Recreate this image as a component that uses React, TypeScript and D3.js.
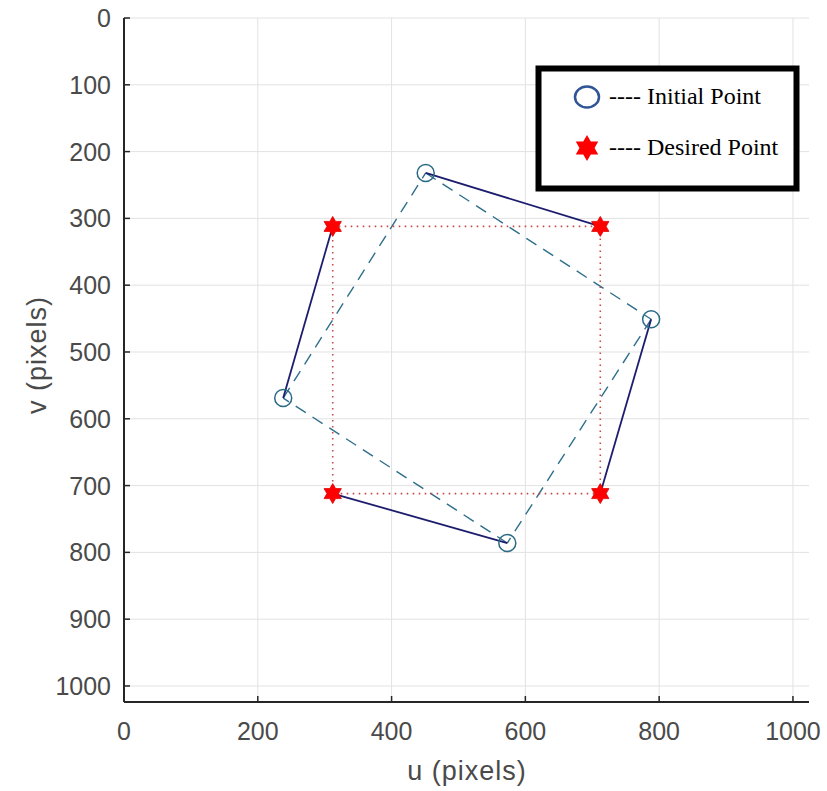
import React, { useEffect, useRef } from 'react';
import * as d3 from 'd3';

// image feature points (pixels)
const initialU = [451, 788, 573, 238];
const initialV = [232, 451, 786, 569];
const desiredU = [712, 712, 312, 312];
const desiredV = [312, 712, 712, 312];

const uTicks = [0, 200, 400, 600, 800, 1000];
const vTicks = [0, 100, 200, 300, 400, 500, 600, 700, 800, 900, 1000];
const legendLabels = ['---- Initial Point', '---- Desired Point'];

const W = 827;
const H = 791;

// six pointed star path centred at 0,0
const hexagram = (r: number) => {
  const pts: [number, number][] = d3.range(12).map((i) => {
    const a = (i * Math.PI) / 6 - Math.PI / 2;
    const rr = i % 2 === 0 ? r : r * 0.58;
    return [Math.cos(a) * rr, Math.sin(a) * rr];
  });
  return d3.line()(pts) + 'Z';
};

const App: React.FC = () => {
  const svgRef = useRef<SVGSVGElement>(null);

  useEffect(() => {
    if (!svgRef.current) return;
    const svg = d3.select(svgRef.current);
    svg.selectAll('*').remove();

    const x = d3.scaleLinear().domain([0, 1024]).range([124, 809]);
    const y = d3.scaleLinear().domain([0, 1024]).range([18, 702]);

    svg.append('rect').attr('width', W).attr('height', H).attr('fill', '#ffffff');

    // grid
    const grid = svg.append('g').attr('stroke', '#e2e2e2').attr('stroke-width', 1);
    uTicks.forEach((t) => {
      grid.append('line')
        .attr('x1', x(t)).attr('x2', x(t))
        .attr('y1', y(0)).attr('y2', y(1024));
    });
    vTicks.forEach((t) => {
      grid.append('line')
        .attr('x1', x(0)).attr('x2', x(1024))
        .attr('y1', y(t)).attr('y2', y(t));
    });

    // axes (box off, ticks inward)
    const axisCol = '#262626';
    const font = 'Liberation Sans, Arial, sans-serif';
    svg.append('line')
      .attr('x1', x(0)).attr('x2', x(0)).attr('y1', y(0)).attr('y2', y(1024))
      .attr('stroke', axisCol).attr('stroke-width', 2);
    svg.append('line')
      .attr('x1', x(0)).attr('x2', x(1024)).attr('y1', y(1024)).attr('y2', y(1024))
      .attr('stroke', axisCol).attr('stroke-width', 2);

    vTicks.forEach((t) => {
      svg.append('line')
        .attr('x1', x(0)).attr('x2', x(0) + 6).attr('y1', y(t)).attr('y2', y(t))
        .attr('stroke', axisCol).attr('stroke-width', 1.5);
      svg.append('text')
        .attr('x', 111).attr('y', y(t))
        .attr('text-anchor', 'end').attr('dominant-baseline', 'central')
        .attr('font-family', font)
        .attr('font-size', 25).attr('fill', '#4a4a4a')
        .text(t);
    });
    uTicks.forEach((t) => {
      svg.append('line')
        .attr('x1', x(t)).attr('x2', x(t)).attr('y1', y(1024)).attr('y2', y(1024) - 6)
        .attr('stroke', axisCol).attr('stroke-width', 1.5);
      svg.append('text')
        .attr('x', x(t)).attr('y', 740)
        .attr('text-anchor', 'middle')
        .attr('font-family', font)
        .attr('font-size', 25).attr('fill', '#4a4a4a')
        .text(t);
    });

    svg.append('text')
      .attr('x', 467).attr('y', 780)
      .attr('text-anchor', 'middle')
      .attr('font-family', font)
      .attr('font-size', 27).attr('letter-spacing', 1).attr('fill', '#4a4a4a')
      .text('u (pixels)');
    svg.append('text')
      .attr('transform', 'translate(46,355) rotate(-90)')
      .attr('text-anchor', 'middle')
      .attr('font-family', font)
      .attr('font-size', 27).attr('letter-spacing', 1).attr('fill', '#4a4a4a')
      .text('v (pixels)');

    const n = initialU.length;
    const idx = d3.range(n);

    // dashed polygon through initial points
    idx.forEach((i) => {
      const j = (i + 1) % n;
      svg.append('line')
        .attr('x1', x(initialU[i])).attr('y1', y(initialV[i]))
        .attr('x2', x(initialU[j])).attr('y2', y(initialV[j]))
        .attr('stroke', '#2f6f8c').attr('stroke-width', 1.4)
        .attr('stroke-dasharray', '12,8');
    });

    // dotted square through desired points
    idx.forEach((i) => {
      const j = (i + 1) % n;
      svg.append('line')
        .attr('x1', x(desiredU[i])).attr('y1', y(desiredV[i]))
        .attr('x2', x(desiredU[j])).attr('y2', y(desiredV[j]))
        .attr('stroke', '#c84a4a').attr('stroke-width', 1.6)
        .attr('stroke-dasharray', '1.6,4.4');
    });

    // trajectories initial -> desired
    idx.forEach((i) => {
      svg.append('line')
        .attr('x1', x(initialU[i])).attr('y1', y(initialV[i]))
        .attr('x2', x(desiredU[i])).attr('y2', y(desiredV[i]))
        .attr('stroke', '#1d1d6e').attr('stroke-width', 1.8);
    });

    svg.append('g').selectAll('circle')
      .data(idx)
      .enter()
      .append('circle')
      .attr('cx', (i) => x(initialU[i]))
      .attr('cy', (i) => y(initialV[i]))
      .attr('r', 8.5)
      .attr('fill', 'none')
      .attr('stroke', '#2a6a86')
      .attr('stroke-width', 1.5);

    svg.append('g').selectAll('path')
      .data(idx)
      .enter()
      .append('path')
      .attr('transform', (i) => `translate(${x(desiredU[i])},${y(desiredV[i])})`)
      .attr('d', hexagram(10))
      .attr('fill', '#ff0000')
      .attr('stroke', '#e00000')
      .attr('stroke-width', 0.8);

    // legend
    const lg = svg.append('g');
    lg.append('rect')
      .attr('x', 538.5).attr('y', 68.5).attr('width', 258).attr('height', 120)
      .attr('fill', '#ffffff').attr('stroke', '#000000').attr('stroke-width', 6);
    lg.append('ellipse')
      .attr('cx', 587).attr('cy', 97).attr('rx', 12).attr('ry', 10.5)
      .attr('fill', 'none').attr('stroke', '#2f5597').attr('stroke-width', 2.5);
    lg.append('path')
      .attr('transform', 'translate(587,148)')
      .attr('d', hexagram(13))
      .attr('fill', '#ff0000');
    legendLabels.forEach((label, i) => {
      lg.append('text')
        .attr('x', 609).attr('y', i === 0 ? 104 : 155)
        .attr('font-family', 'Liberation Serif, Times New Roman, serif')
        .attr('font-size', 24).attr('fill', '#000000')
        .text(label);
    });
  }, []);

  return (
    <svg
      ref={svgRef}
      width={W}
      height={H}
      style={{ position: 'absolute', left: 0, top: 0 }}
    />
  );
};

export default App;
